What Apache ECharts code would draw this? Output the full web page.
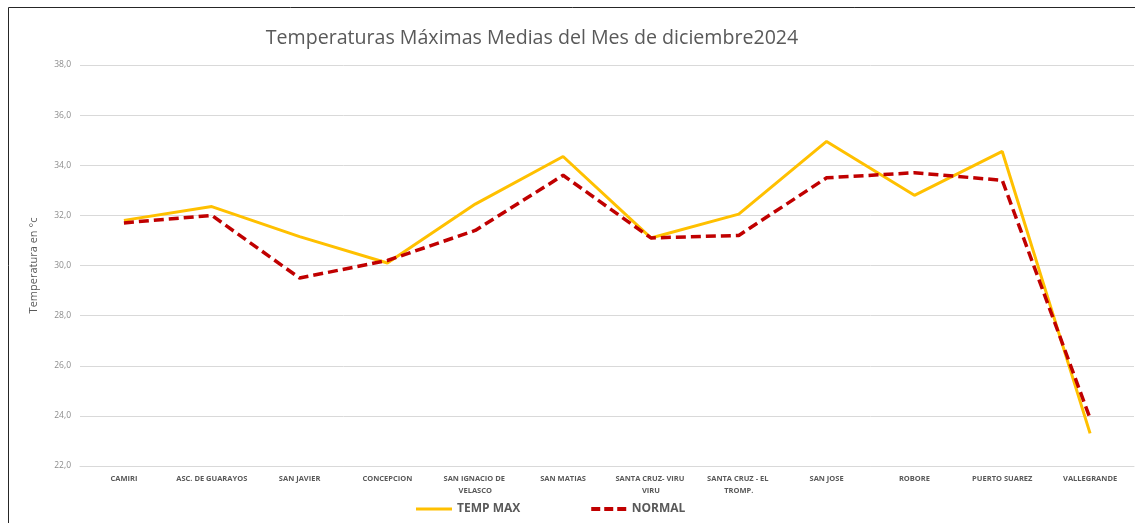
<!DOCTYPE html>
<html>
<head>
<meta charset="utf-8">
<script src="https://cdn.jsdelivr.net/npm/echarts@6/dist/echarts.min.js"></script>
<style>
  html, body { margin: 0; padding: 0; background: #fff; }
  #main { width: 1135px; height: 523px; }
</style>
</head>
<body>
<div id="main"></div>
<script>
  // datos
  const estaciones = ['CAMIRI', 'ASC. DE GUARAYOS', 'SAN JAVIER', 'CONCEPCION', 'SAN IGNACIO DE VELASCO',
    'SAN MATIAS', 'SANTA CRUZ- VIRU VIRU', 'SANTA CRUZ - EL TROMP.', 'SAN JOSE', 'ROBORE',
    'PUERTO SUAREZ', 'VALLEGRANDE'];
  const tempMax = [31.8, 32.35, 31.15, 30.1, 32.45, 34.35, 31.1, 32.05, 34.95, 32.8, 34.55, 23.3];
  const normal = [31.7, 32.0, 29.5, 30.2, 31.4, 33.6, 31.1, 31.2, 33.5, 33.7, 33.4, 23.9];
  const yTicks = [22, 24, 26, 28, 30, 32, 34, 36, 38];

  var chartDom = document.getElementById('main');
  var myChart = echarts.init(chartDom);
  var gris = '#595959';

  var option = {
    animation: false,
    backgroundColor: '#fff',
    title: {
      text: 'Temperaturas Máximas Medias del Mes de diciembre2024',
      left: 527,
      textAlign: 'center',
      top: 23,
      textStyle: { fontFamily: 'Open Sans', fontSize: 19.6, fontWeight: 'normal', color: gris }
    },
    graphic: [{
      type: 'rect',
      shape: { x: 8.5, y: 7.5, width: 1140, height: 540 },
      style: { fill: 'none', stroke: '#262626', lineWidth: 1 },
      silent: true
    }],
    legend: {
      top: 498,
      left: 411,
      itemWidth: 36,
      itemHeight: 4,
      itemGap: 71,
      textStyle: { fontFamily: 'Open Sans', fontSize: 12, fontWeight: 'bold', color: gris },
      data: [
        { name: 'TEMP MAX', icon: 'path://M0,0 L36,0 L36,3 L0,3 Z' },
        { name: 'NORMAL', icon: 'path://M0,0 L9,0 L9,4 L0,4 Z M13,0 L22,0 L22,4 L13,4 Z M26,0 L35,0 L35,4 L26,4 Z' }
      ]
    },
    grid: { left: 80, right: -1, top: 65, bottom: 57 },
    xAxis: {
      type: 'category',
      data: estaciones,
      boundaryGap: true,
      axisLine: { lineStyle: { color: '#d9d9d9' } },
      axisTick: { show: false },
      axisLabel: {
        interval: 0,
        margin: 7,
        width: 84,
        overflow: 'break',
        lineHeight: 12,
        fontFamily: 'Open Sans',
        fontSize: 7.5,
        fontWeight: 'bold',
        color: gris
      }
    },
    yAxis: {
      type: 'value',
      min: yTicks[0],
      max: yTicks[yTicks.length - 1],
      interval: 2,
      name: 'Temperatura en °c',
      nameLocation: 'middle',
      nameGap: 41,
      nameTextStyle: { fontFamily: 'Open Sans', fontSize: 11, color: gris },
      axisLine: { show: false },
      axisTick: { show: false },
      splitLine: { lineStyle: { color: '#d9d9d9', width: 1 } },
      axisLabel: {
        margin: 9,
        fontFamily: 'Open Sans',
        fontSize: 8.5,
        color: '#8c8c8c',
        formatter: function (v) { return v.toFixed(1).replace('.', ','); }
      }
    },
    series: [
      {
        name: 'TEMP MAX',
        type: 'line',
        data: tempMax,
        symbol: 'none',
        color: '#FFC000',
        lineStyle: { color: '#FFC000', width: 3 }
      },
      {
        name: 'NORMAL',
        type: 'line',
        data: normal,
        symbol: 'none',
        color: '#C00000',
        lineStyle: { color: '#C00000', width: 3.5, type: [10, 5] }
      }
    ]
  };

  option && myChart.setOption(option);

  window.addEventListener('resize', () => {
    myChart.resize();
  });
</script>
</body>
</html>
